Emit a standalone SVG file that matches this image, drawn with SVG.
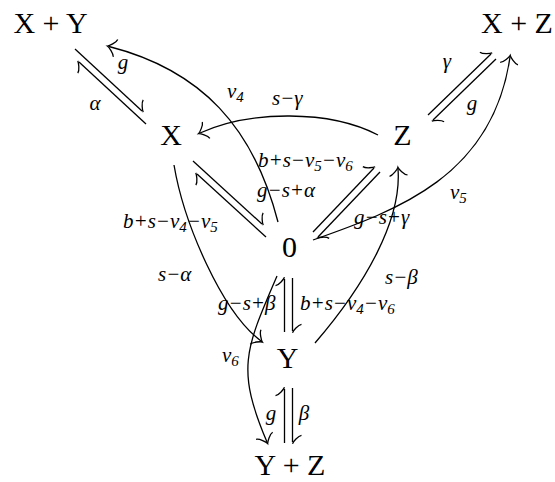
<svg xmlns="http://www.w3.org/2000/svg" width="555" height="482" viewBox="0 0 555 482">
<style>
.node{font-family:"Liberation Serif","Times New Roman",serif;font-size:30px;fill:#000;text-anchor:middle}
.lbl{font-family:"Liberation Serif","Times New Roman",serif;font-style:italic;font-size:21px;fill:#000}
.sub{font-size:15px}
.c{fill:none;stroke:#000;stroke-width:1.3}
.hp{marker-end:url(#harp)}
.ar{marker-end:url(#arr)}
</style>
<defs>
<marker id="harp" markerUnits="userSpaceOnUse" orient="auto" overflow="visible" markerWidth="1" markerHeight="1" refX="0" refY="0">
<path d="M-6.7,-9 C-6.2,-5.6 0,-0.6 1.7,0" fill="none" stroke="#000" stroke-width="1.3"/>
</marker>
<marker id="arr" markerUnits="userSpaceOnUse" orient="auto" overflow="visible" markerWidth="1" markerHeight="1" refX="0" refY="0">
<path d="M-6.7,-9 C-6.2,-5.6 0,-0.6 1.7,0 C0,0.6 -6.2,5.6 -6.7,9" fill="none" stroke="#000" stroke-width="1.3"/>
</marker>
</defs>
<g id="n-XY"><text class="node" x="50.5" y="33">X + Y</text></g>
<g id="n-XZ"><text class="node" x="517" y="33">X + Z</text></g>
<g id="n-X"><text class="node" x="171" y="145">X</text></g>
<g id="n-Z"><text class="node" x="402.5" y="145">Z</text></g>
<g id="n-0"><text class="node" x="289.5" y="256.5">0</text></g>
<g id="n-Y"><text class="node" x="287.5" y="368">Y</text></g>
<g id="n-YZ"><text class="node" x="290" y="475">Y + Z</text></g>
<g id="connectors">
<path class="c hp" d="M75,49 L142,111"/>
<path class="c hp" d="M146,124 L79,62"/>
<path class="c hp" d="M193,161 L262,224"/>
<path class="c hp" d="M266,237 L197,174"/>
<path class="c hp" d="M313,232 L374,168"/>
<path class="c hp" d="M380,172 L318,237"/>
<path class="c hp" d="M428,115 L491,54"/>
<path class="c hp" d="M496,59 L433,120"/>
<path class="c hp" d="M284.5,332 L284.5,279"/>
<path class="c hp" d="M292.5,278 L292.5,331"/>
<path class="c hp" d="M284.5,443 L284.5,389"/>
<path class="c hp" d="M292.5,388 L292.5,442"/>
<path class="c ar" d="M278,222 C253.75,127.9 202,70.25 109,46.5"/>
<path class="c ar" d="M378,135 C330,110 250,110 200,133"/>
<path class="c ar" d="M174,165 C184,224 222,312 261,341"/>
<path class="c ar" d="M277,276 C245,350 236,369 267,442"/>
<path class="c ar" d="M315,343 C365,285 402,220 398,169"/>
<path class="c ar" d="M313,240 C398,210 493,176 510,57"/>
</g>
<g id="labels">
<text class="lbl" x="123" y="68.5" text-anchor="middle">g</text>
<text class="lbl" x="95" y="110" text-anchor="middle">α</text>
<text class="lbl" x="227" y="98">v<tspan class="sub" dy="4">4</tspan></text>
<text class="lbl" x="272" y="105">s−γ</text>
<text class="lbl" x="258" y="167">b+s−v<tspan class="sub" dy="4">5</tspan><tspan dy="-4">−v</tspan><tspan class="sub" dy="4">6</tspan></text>
<text class="lbl" x="257" y="197">g−s+α</text>
<text class="lbl" x="123" y="228">b+s−v<tspan class="sub" dy="4">4</tspan><tspan dy="-4">−v</tspan><tspan class="sub" dy="4">5</tspan></text>
<text class="lbl" x="158" y="281">s−α</text>
<text class="lbl" x="450" y="199">v<tspan class="sub" dy="4">5</tspan></text>
<text class="lbl" x="354" y="224">g−s+γ</text>
<text class="lbl" x="447" y="67.5" text-anchor="middle">γ</text>
<text class="lbl" x="472" y="110" text-anchor="middle">g</text>
<text class="lbl" x="385" y="284">s−β</text>
<text class="lbl" x="218" y="310">g−s+β</text>
<text class="lbl" x="300" y="310">b+s−v<tspan class="sub" dy="4">4</tspan><tspan dy="-4">−v</tspan><tspan class="sub" dy="4">6</tspan></text>
<text class="lbl" x="222" y="362">v<tspan class="sub" dy="4">6</tspan></text>
<text class="lbl" x="271" y="420" text-anchor="middle">g</text>
<text class="lbl" x="304" y="420" text-anchor="middle">β</text>
</g>
</svg>
